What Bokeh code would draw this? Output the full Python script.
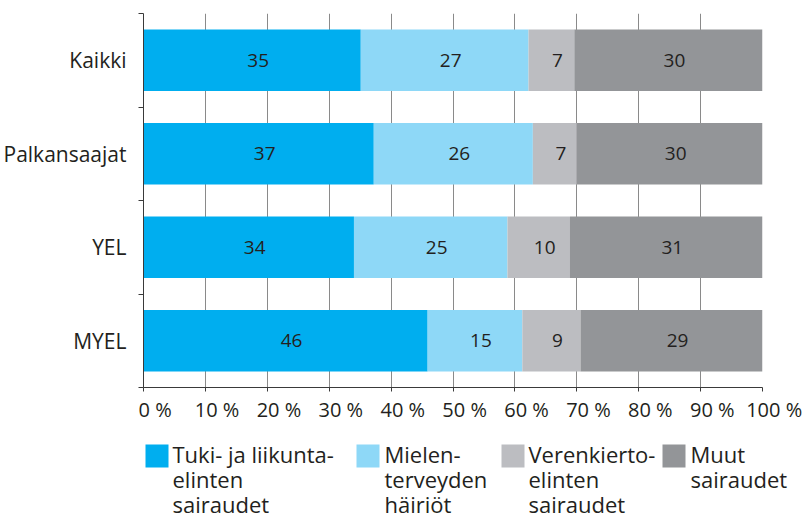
from bokeh.plotting import figure
from bokeh.models import Range1d, FixedTicker, ColumnDataSource
from bokeh.layouts import column, row
from bokeh.embed import file_html
from bokeh.resources import INLINE
from bokeh.core.properties import value

# ---- data ----
categories = ["Kaikki", "Palkansaajat", "YEL", "MYEL"]
tuki = [35.1, 37.2, 34.0, 45.9]      # Tuki- ja liikuntaelinten sairaudet
mielen = [27.1, 25.7, 24.8, 15.3]    # Mielenterveyden häiriöt
veren = [7.4, 7.1, 10.1, 9.4]        # Verenkiertoelinten sairaudet
muut = [30.4, 30.0, 31.1, 29.4]      # Muut sairaudet
series_keys = ["tuki", "mielen", "veren", "muut"]
series_labels = [
    ["Tuki- ja liikunta-", "elinten", "sairaudet"],
    ["Mielen-", "terveyden", "häiriöt"],
    ["Verenkierto-", "elinten", "sairaudet"],
    ["Muut", "sairaudet"],
]
x_ticks = [0, 10, 20, 30, 40, 50, 60, 70, 80, 90, 100]

colors = ["#00AEEF", "#8ED8F7", "#BCBDC1", "#939598"]
FONT = "Open Sans"
TEXT = "#231F20"
AXIS = "#3A3A3A"

# ---- layout (pixels) ----
W = 808
FRAME_H = 374
B_LEFT, B_TOP, B_RIGHT, B_BOTTOM = 143, 13, 46, 45
LEG_H = 87

n = len(categories)
ypos = [n - i - 0.5 for i in range(n)]
src = ColumnDataSource(dict(y=ypos, cat=categories, tuki=tuki, mielen=mielen,
                            veren=veren, muut=muut))

p = figure(width=W, height=B_TOP + FRAME_H + B_BOTTOM,
           x_range=Range1d(0, 100), y_range=Range1d(0, n),
           output_backend="svg", toolbar_location=None,
           min_border_left=B_LEFT, min_border_right=B_RIGHT,
           min_border_top=B_TOP, min_border_bottom=B_BOTTOM)
p.outline_line_color = None
p.background_fill_color = "white"
p.border_fill_color = "white"

p.hbar_stack(series_keys, y="y", height=0.66, color=colors, source=src,
             line_color=None)

# value labels at segment centres
lx, ly, lt = [], [], []
series_vals = [tuki, mielen, veren, muut]
for i in range(n):
    left = 0.0
    for vals in series_vals:
        v = vals[i]
        lx.append(left + v / 2)
        ly.append(ypos[i])
        lt.append(f"{v:.0f}")
        left += v
p.text(x=lx, y=ly, text=lt, text_align="center", text_baseline="middle",
       x_offset=6, text_font=value(FONT), text_font_size="19px", text_color=TEXT)

# x axis
xa = p.xaxis[0]
xa.ticker = FixedTicker(ticks=x_ticks)
xa.major_label_overrides = {t: "\u2003\u2009" + f"{t} %" for t in x_ticks}
xa.major_tick_in = 0
xa.major_tick_out = 4
xa.minor_tick_line_color = None
xa.axis_line_color = AXIS
xa.major_tick_line_color = AXIS
xa.major_label_text_font = FONT
xa.major_label_text_font_size = "20px"
xa.major_label_text_color = TEXT
xa.major_label_standoff = 4

# y axis
ya = p.yaxis[0]
ya.ticker = FixedTicker(ticks=ypos, minor_ticks=list(range(n + 1)))
ya.major_label_overrides = {y: c for y, c in zip(ypos, categories)}
ya.major_tick_in = 0
ya.major_tick_out = 0
ya.minor_tick_in = 0
ya.minor_tick_out = 5
ya.minor_tick_line_color = AXIS
ya.axis_line_color = AXIS
ya.major_label_text_font = FONT
ya.major_label_text_font_size = "21px"
ya.major_label_text_color = TEXT
ya.major_label_standoff = 12

p.xgrid.ticker = FixedTicker(ticks=x_ticks)
p.xgrid.grid_line_color = "#8A8A8A"
p.ygrid.grid_line_color = None

# ---- legend panel (coordinates = pixels inside this panel, y downwards) ----
leg = figure(width=W, height=LEG_H, x_range=Range1d(0, W), y_range=Range1d(LEG_H, 0),
             x_axis_type=None, y_axis_type=None,
             output_backend="svg", toolbar_location=None,
             min_border=0, min_border_left=0, min_border_right=0,
             min_border_top=0, min_border_bottom=0)
leg.grid.visible = False
leg.outline_line_color = None
leg.background_fill_color = "white"
leg.border_fill_color = "white"

sw_left = [145, 356, 501, 662]
sw_size = 23
sw_top = 12
text_x = [172, 384, 528, 690]
baselines = [21.5, 46.5, 71]

leg.quad(left=sw_left, right=[s + sw_size for s in sw_left],
         top=[sw_top] * 4, bottom=[sw_top + sw_size] * 4,
         color=colors, line_color=None)
tx, ty, tt = [], [], []
for k, lines in enumerate(series_labels):
    for j, line in enumerate(lines):
        tx.append(text_x[k])
        ty.append(baselines[j])
        tt.append(line)
leg.text(x=tx, y=ty, text=tt, text_align="left", text_baseline="alphabetic",
         text_font=value(FONT), text_font_size="22px", text_color=TEXT)

layout = column(p, row(leg), spacing=0)
open("out.html", "w").write(file_html(layout, INLINE))
